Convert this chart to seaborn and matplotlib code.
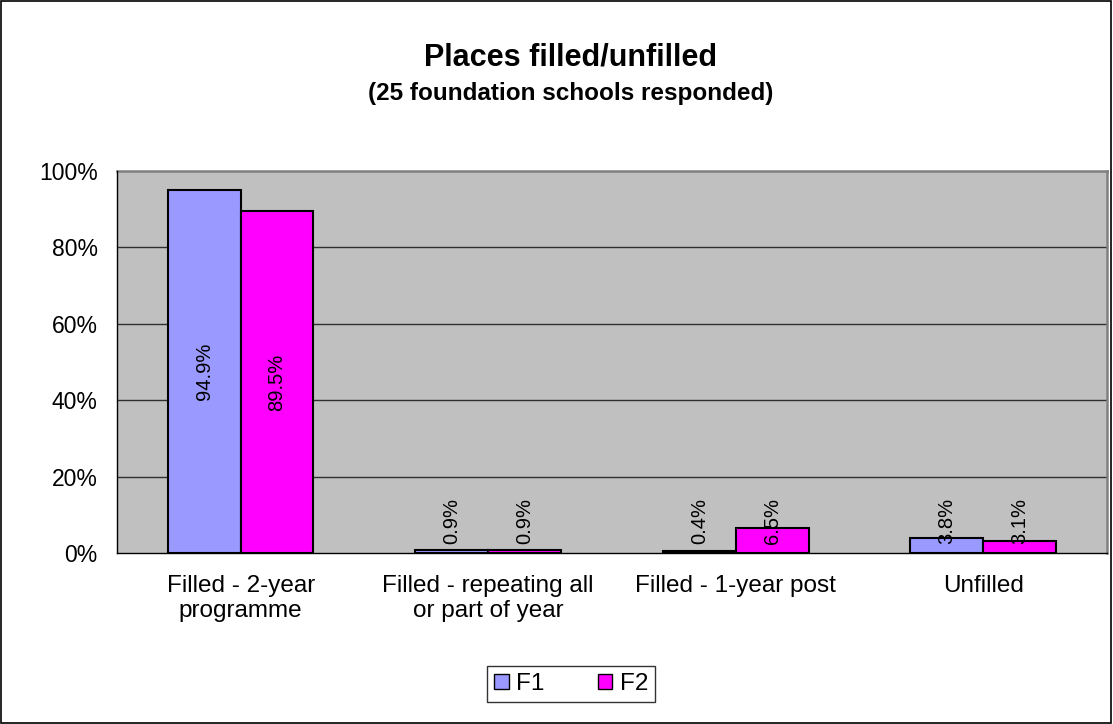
import matplotlib
matplotlib.use("Agg")
import matplotlib.pyplot as plt
import seaborn as sns
import pandas as pd
from matplotlib.patches import Rectangle, Patch

categories = ["Filled - 2-year\nprogramme", "Filled - repeating all\nor part of year",
              "Filled - 1-year post", "Unfilled"]
f1_values = [94.9, 0.9, 0.4, 3.8]
f2_values = [89.5, 0.9, 6.5, 3.1]
series = ["F1", "F2"]
colors = {"F1": "#9999FF", "F2": "#FF00FF"}
yticks = [0, 20, 40, 60, 80, 100]

df = pd.DataFrame({
    "category": categories * 2,
    "series": ["F1"] * len(categories) + ["F2"] * len(categories),
    "value": f1_values + f2_values,
})

sns.set_style("white")
plt.rcParams["font.family"] = ["Liberation Sans", "DejaVu Sans"]
plt.rcParams["text.color"] = "black"
plt.rcParams["xtick.color"] = "black"
plt.rcParams["ytick.color"] = "black"

fig = plt.figure(figsize=(11.13, 7.24), dpi=100)
ax = fig.add_axes([0.1051, 0.2362, 0.8895, 0.5276])

sns.barplot(data=df, x="category", y="value", hue="series", palette=colors,
            order=categories, hue_order=series, width=0.588, gap=0, saturation=1,
            edgecolor="black", linewidth=1.5, ax=ax, legend=False, zorder=3)

ax.set_facecolor("#C0C0C0")
ax.set_ylim(0, 100)
ax.set_xlim(-0.5, len(categories) - 0.5)
ax.set_yticks(yticks)
ax.set_yticklabels([f"{t}%" for t in yticks], fontsize=16.5)
for t in yticks[1:-1]:
    ax.axhline(t, color="#303030", linewidth=1, zorder=1)

ax.set_xticks(range(len(categories)))
ax.set_xticklabels(categories, fontsize=17.5, linespacing=1.15)
ax.tick_params(axis="x", which="major", length=0, pad=16)
ax.set_xticks([i - 0.5 for i in range(len(categories) + 1)], minor=True)
ax.tick_params(axis="x", which="minor", length=6, width=1, color="black", direction="out")
ax.tick_params(axis="y", length=6, width=1, color="black", direction="out", pad=8)
ax.set_xlabel("")
ax.set_ylabel("")

for s in ["top", "right"]:
    ax.spines[s].set_color("#808080")
    ax.spines[s].set_linewidth(1.8)
for s in ["left", "bottom"]:
    ax.spines[s].set_color("black")
    ax.spines[s].set_linewidth(1)
    ax.spines[s].set_zorder(4)

# data labels
for container, vals in zip(ax.containers, [f1_values, f2_values]):
    for bar, v in zip(container, vals):
        cx = bar.get_x() + bar.get_width() / 2
        y = max(v / 2, 8.4)
        ax.text(cx, y, f"{v}%", rotation=90, ha="center", va="center",
                fontsize=14.5, color="black", zorder=5)

fig.text(0.513, 0.921, "Places filled/unfilled", ha="center", va="center",
         fontsize=22, fontweight="bold")
fig.text(0.513, 0.871, "(25 foundation schools responded)", ha="center", va="center",
         fontsize=17.5, fontweight="bold")

handles = [Patch(facecolor=colors[s], edgecolor="black", linewidth=1, label=s) for s in series]
leg = fig.legend(handles=handles, loc="lower center", bbox_to_anchor=(0.513, 0.013),
                 ncol=2, fontsize=17.5, frameon=True, fancybox=False,
                 handlelength=0.6, handleheight=0.6, handletextpad=0.3,
                 columnspacing=2.2, borderpad=0.3)
leg.get_frame().set_edgecolor("black")
leg.get_frame().set_linewidth(1)

fig.patches.append(Rectangle((0.001, 0.002), 0.997, 0.996, transform=fig.transFigure,
                             fill=False, edgecolor="black", linewidth=1.2))

fig.savefig("out.png", dpi=100)
